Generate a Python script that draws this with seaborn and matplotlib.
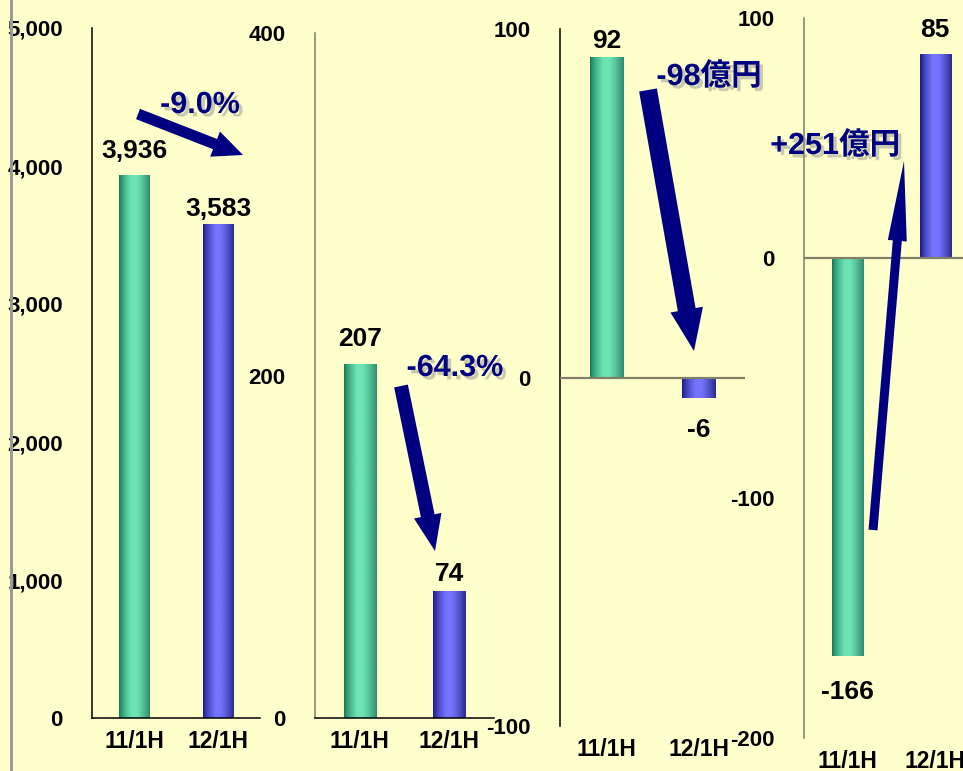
import numpy as np
import matplotlib
matplotlib.use('Agg')
import matplotlib.pyplot as plt
import seaborn as sns
from matplotlib import font_manager as fm
from matplotlib.patches import FancyArrowPatch, Rectangle
import matplotlib.patheffects as pe

# ---------------- data ----------------
categories = ['11/1H', '12/1H']
sales = [3936, 3583]
operating_income = [207, 74]
ordinary_income = [92, -6]
net_income = [-166, 85]

sales_labels = ['3,936', '3,583']
operating_labels = ['207', '74']
ordinary_labels = ['92', '-6']
net_labels = ['-166', '85']

sales_ticks = [0, 1000, 2000, 3000, 4000, 5000]
operating_ticks = [0, 200, 400]
ordinary_ticks = [-100, 0, 100]
net_ticks = [-200, -100, 0, 100]

change_texts = ['-9.0%', '-64.3%', '-98億円', '+251億円']

# ---------------- style ----------------
BG = '#FFFFCC'
NAVY = '#000080'
GREEN = ('#107456', '#6CE4B4', '#2E8C6C')
BLUE = ('#16167E', '#7474FF', '#2A2A8C')

sns.set_theme(style='white')
available = {f.name for f in fm.fontManager.ttflist}
latin = 'Liberation Sans Narrow' if 'Liberation Sans Narrow' in available else 'Liberation Sans'
plt.rcParams['font.family'] = [latin, 'Noto Sans CJK JP', 'DejaVu Sans']
plt.rcParams['font.weight'] = 'bold'
plt.rcParams['axes.unicode_minus'] = False

W, H = 963, 771
fig = plt.figure(figsize=(W / 100, H / 100), dpi=100, facecolor=BG)

# gray strip at left
fig.add_artist(Rectangle((10 / W, 0), 3 / W, 1, transform=fig.transFigure,
                         facecolor='#9A9A9A', edgecolor='none'))


def px_axes(x0, x1, ytop, ybot):
    return fig.add_axes([x0 / W, 1 - ybot / H, (x1 - x0) / W, (ybot - ytop) / H])


def gradient_bar(ax, patch, cols):
    x0, y0 = patch.get_x(), patch.get_y()
    w, h = patch.get_width(), patch.get_height()
    dl = np.array(matplotlib.colors.to_rgb(cols[0]))
    lt = np.array(matplotlib.colors.to_rgb(cols[1]))
    dr = np.array(matplotlib.colors.to_rgb(cols[2]))
    n = 80
    t = np.linspace(0, 1, n)
    img = np.zeros((1, n, 3))
    for i, tt in enumerate(t):
        if tt < 0.4:
            f = (tt / 0.4) ** 0.7
            img[0, i] = dl * (1 - f) + lt * f
        elif tt < 0.55:
            img[0, i] = lt
        else:
            f = ((tt - 0.55) / 0.45) ** 1.3
            img[0, i] = lt * (1 - f) + dr * f
    ylo, yhi = min(y0, y0 + h), max(y0, y0 + h)
    im = ax.imshow(img, extent=[x0, x0 + w, ylo, yhi], aspect='auto',
                   zorder=patch.get_zorder() + 0.1, interpolation='bilinear')
    im.set_clip_path(patch)


panels = [
    dict(vals=sales, labels=sales_labels, ticks=sales_ticks, ylim=(0, 5000),
         box=(92, 260, 28, 718), fmt='{:,}', spine='black', zero_line=None,
         offs=[24, 15]),
    dict(vals=operating_income, labels=operating_labels, ticks=operating_ticks,
         ylim=(0, 400), box=(315, 494, 33, 718), fmt='{}', spine='#7E7E6A',
         zero_line=None, offs=[25, 17]),
    dict(vals=ordinary_income, labels=ordinary_labels, ticks=ordinary_ticks,
         ylim=(-100, 100), box=(560, 745, 29, 726), fmt='{}', spine='black',
         zero_line='#808068', offs=[16, -32]),
    dict(vals=net_income, labels=net_labels, ticks=net_ticks, ylim=(-200, 100),
         box=(804, 979, 18, 738), fmt='{}', spine='#7E7E6A', zero_line='#808068',
         offs=[-36, 24]),
]

for p in panels:
    ax = px_axes(*p['box'])
    ax.patch.set_alpha(0)
    sns.barplot(x=categories, y=p['vals'], hue=categories,
                palette=[GREEN[1], BLUE[1]], width=0.36, saturation=1,
                legend=False, ax=ax, edgecolor='none', linewidth=0)
    bars = sorted([b for b in ax.patches if b.get_width() > 0], key=lambda b: b.get_x())
    for b, cols in zip(bars, [GREEN, BLUE]):
        gradient_bar(ax, b, cols)
    ax.set_xlim(-0.5, 1.5)
    ax.set_ylim(*p['ylim'])
    ax.set_yticks(p['ticks'])
    ax.set_yticklabels([p['fmt'].format(t) for t in p['ticks']])
    ax.tick_params(axis='y', direction='in', length=5.5, width=1,
                   color=p['spine'], pad=21, labelsize=16, labelcolor='black')
    ax.tick_params(axis='x', length=0, pad=9, labelsize=16.5, labelcolor='black')
    for lab in ax.get_xticklabels() + ax.get_yticklabels():
        lab.set_fontweight('bold')
    ax.set_xlabel('')
    ax.set_ylabel('')
    for s in ['top', 'right']:
        ax.spines[s].set_visible(False)
    ax.spines['left'].set_color(p['spine'])
    ax.spines['left'].set_linewidth(1.1)
    if p['zero_line'] is None:
        ax.spines['bottom'].set_color('black')
        ax.spines['bottom'].set_linewidth(1.1)
    else:
        ax.spines['bottom'].set_visible(False)
        ax.axhline(0, color=p['zero_line'], lw=1.6, zorder=5)
    for i, (v, lab, off) in enumerate(zip(p['vals'], p['labels'], p['offs'])):
        ax.annotate(lab, xy=(i, v), xytext=(0, off * 0.72), textcoords='offset points',
                    ha='center', va='center', fontsize=19, fontweight='bold',
                    color='black', annotation_clip=False)

# ---------------- change arrows & texts (figure pixel coords) ----------------
arrows = [
    dict(tail=(138, 114), tip=(243, 155), tw=11, hw=27, hl=30),
    dict(tail=(401, 386), tip=(435, 551), tw=14, hw=28, hl=36),
    dict(tail=(648, 90), tip=(694, 351), tw=18, hw=33, hl=42),
    dict(tail=(873, 530), tip=(904, 161), tw=9, hw=19, hl=80),
]
text_pos = [(200, 105), (455, 368), (709, 77), (835, 146)]

pxscale = 72 / 100.0  # points per pixel
for a in arrows:
    A = (a['tail'][0] / W, 1 - a['tail'][1] / H)
    B = (a['tip'][0] / W, 1 - a['tip'][1] / H)
    arr = FancyArrowPatch(A, B, transform=fig.transFigure,
                          arrowstyle=f"simple,head_length={a['hl']},head_width={a['hw']},tail_width={a['tw']}",
                          mutation_scale=pxscale, shrinkA=0, shrinkB=0,
                          facecolor=NAVY, edgecolor='none', zorder=10)
    fig.add_artist(arr)

shadow = [pe.withSimplePatchShadow(offset=(2.5, -2.5), shadow_rgbFace='#888888', alpha=0.45)]
for txt, (x, y) in zip(change_texts, text_pos):
    fig.text(x / W, 1 - y / H, txt, ha='center', va='center', fontsize=22,
             fontweight='bold', color=NAVY, path_effects=shadow, zorder=11)

fig.savefig('out.png', dpi=100, facecolor=BG)
